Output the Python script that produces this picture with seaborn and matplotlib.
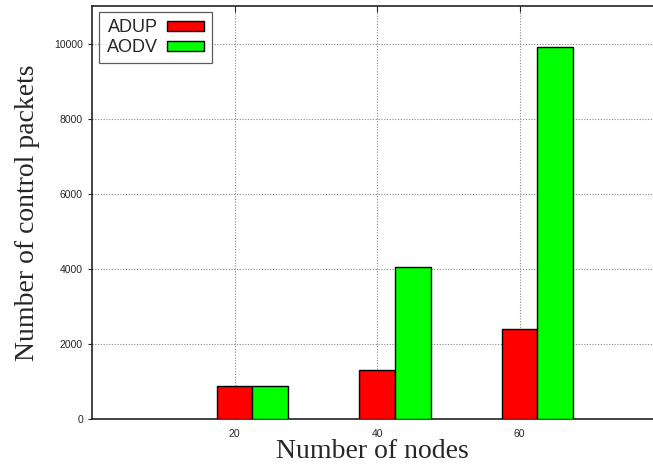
import pandas as pd
import matplotlib
matplotlib.use('Agg')
import matplotlib.pyplot as plt
import seaborn as sns

# ---- data ----
nodes = [20, 40, 60]
adup = [880, 1300, 2410]
aodv = [880, 4040, 9900]
protocols = ['ADUP', 'AODV']
colors = ['#ff0000', '#00ff00']

df = pd.DataFrame({
    'nodes': nodes * 2,
    'packets': adup + aodv,
    'protocol': ['ADUP'] * len(nodes) + ['AODV'] * len(nodes),
})
# gnuplot-style: first bar sits on the tick, second one to its right
df['pos'] = df['nodes'] + 2.5

sns.set_style('white')
plt.rcParams['font.family'] = ['Liberation Sans', 'DejaVu Sans']

fig = plt.figure(figsize=(6.53, 4.68), dpi=100)
ax = fig.add_axes([0.1409, 0.1047, 0.859, 0.8825])

sns.barplot(data=df, x='pos', y='packets', hue='protocol', hue_order=protocols,
            palette=colors, native_scale=True, width=0.5, dodge=True,
            edgecolor='black', linewidth=1.0, saturation=1, ax=ax, zorder=3)

ax.set_xlim(0, 78.7)
ax.set_ylim(0, 11000)
ax.set_xticks(nodes)
ax.set_xticklabels([str(n) for n in nodes], fontsize=7.5)
ax.set_yticks([0, 2000, 4000, 6000, 8000, 10000])
ax.tick_params(axis='y', labelsize=7.5, direction='out', length=3, width=0.8, left=True)
ax.tick_params(axis='x', direction='in', length=4, width=0.8, top=True, bottom=True, pad=7)

ax.grid(True, linestyle=(0, (1, 1.5)), color='#888888', linewidth=0.8, zorder=0)
ax.set_axisbelow(True)

for side in ['left', 'bottom', 'top']:
    ax.spines[side].set_linewidth(1.2)
    ax.spines[side].set_color('#222222')
ax.spines['right'].set_visible(False)

ax.set_xlabel('Number of nodes', fontsize=20, family='Liberation Serif', labelpad=0)
ax.set_ylabel('Number of control packets', fontsize=20, family='Liberation Serif', labelpad=10)

handles, labels = ax.get_legend_handles_labels()
leg = ax.legend(handles, labels, loc='upper left', bbox_to_anchor=(0.013, 0.985),
                markerfirst=False, fontsize=13, frameon=True, fancybox=False,
                edgecolor='#333333', handlelength=2.1, handleheight=0.5,
                handletextpad=0.5, borderpad=0.4, labelspacing=0.15, borderaxespad=0)
leg.get_frame().set_linewidth(0.9)

plt.savefig('out.png', dpi=100)
